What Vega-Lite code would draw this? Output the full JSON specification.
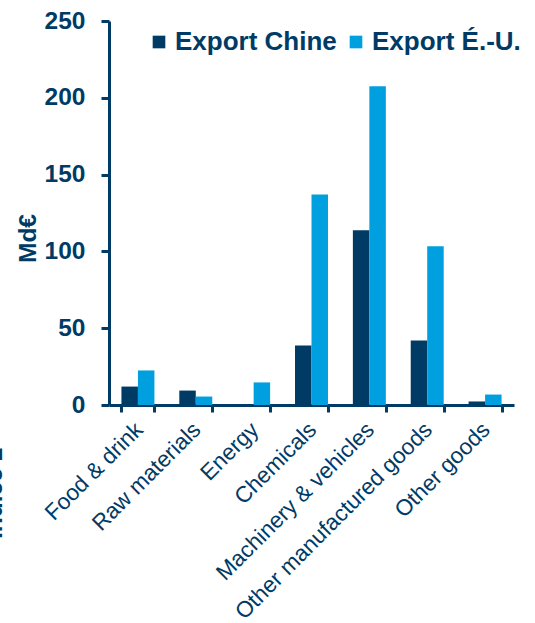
{
  "$schema": "https://vega.github.io/schema/vega-lite/v6.json",
  "width": 405,
  "height": 384,
  "autosize": {"type": "none"},
  "padding": {"left": 109, "top": 21, "right": 21, "bottom": 218},
  "background": "white",
  "title": {
    "text": "Indice 1",
    "orient": "left",
    "anchor": "start",
    "frame": "group",
    "fontSize": 24.5,
    "font": "Liberation Sans",
    "fontWeight": "bold",
    "color": "#003B66",
    "offset": 8,
    "dx": -134
  },
  "data": {
    "values": [
      {"category": "Food & drink", "series": "Export Chine", "value": 12.0},
      {"category": "Food & drink", "series": "Export É.-U.", "value": 22.5},
      {"category": "Raw materials", "series": "Export Chine", "value": 9.4},
      {"category": "Raw materials", "series": "Export É.-U.", "value": 5.5},
      {"category": "Energy", "series": "Export Chine", "value": 0},
      {"category": "Energy", "series": "Export É.-U.", "value": 14.7},
      {"category": "Chemicals", "series": "Export Chine", "value": 38.8},
      {"category": "Chemicals", "series": "Export É.-U.", "value": 137.1},
      {"category": "Machinery & vehicles", "series": "Export Chine", "value": 113.7},
      {"category": "Machinery & vehicles", "series": "Export É.-U.", "value": 207.5},
      {"category": "Other manufactured goods", "series": "Export Chine", "value": 42.0},
      {"category": "Other manufactured goods", "series": "Export É.-U.", "value": 103.3},
      {"category": "Other goods", "series": "Export Chine", "value": 2.3},
      {"category": "Other goods", "series": "Export É.-U.", "value": 6.8}
    ]
  },
  "mark": {"type": "bar"},
  "encoding": {
    "x": {
      "field": "category",
      "type": "nominal",
      "sort": null,
      "scale": {"paddingInner": 0.43, "paddingOuter": 0.215},
      "axis": {
        "title": null,
        "tickBand": "extent",
        "labelAngle": -45,
        "labelFontSize": 22.5,
        "labelFont": "Liberation Sans",
        "labelColor": "#003B66",
        "labelLimit": 0,
        "labelPadding": 6,
        "labelOffset": -7,
        "domainColor": "#003B66",
        "domainWidth": 3,
        "tickColor": "#003B66",
        "tickWidth": 3,
        "tickSize": 7
      }
    },
    "xOffset": {
      "field": "series",
      "type": "nominal",
      "scale": {"paddingInner": 0, "paddingOuter": 0}
    },
    "y": {
      "field": "value",
      "type": "quantitative",
      "scale": {"domain": [0, 250], "nice": false},
      "axis": {
        "title": "Md€",
        "values": [0, 50, 100, 150, 200, 250],
        "grid": false,
        "labelFontSize": 24.5,
        "labelFont": "Liberation Sans",
        "labelFontWeight": "bold",
        "labelColor": "#003B66",
        "labelPadding": 16,
        "domainColor": "#003B66",
        "domainWidth": 3,
        "tickColor": "#003B66",
        "tickWidth": 3,
        "tickSize": 8,
        "titleFontSize": 24.5,
        "titleFont": "Liberation Sans",
        "titleFontWeight": "bold",
        "titleColor": "#003B66",
        "titleAngle": -90,
        "titleAlign": "center",
        "titleBaseline": "middle",
        "titleX": -81,
        "titleY": 217
      }
    },
    "color": {
      "field": "series",
      "type": "nominal",
      "scale": {"domain": ["Export Chine", "Export É.-U."], "range": ["#003B66", "#009FE0"]},
      "legend": {
        "title": null,
        "orient": "none",
        "direction": "horizontal",
        "legendX": 37,
        "legendY": 8,
        "symbolType": "square",
        "symbolSize": 160,
        "symbolStrokeWidth": 0,
        "labelFontSize": 26,
        "labelFont": "Liberation Sans",
        "labelFontWeight": "bold",
        "labelColor": "#003B66",
        "labelLimit": 0,
        "labelOffset": 3,
        "columnPadding": 6,
        "padding": 0
      }
    }
  },
  "config": {"view": {"stroke": null}}
}
